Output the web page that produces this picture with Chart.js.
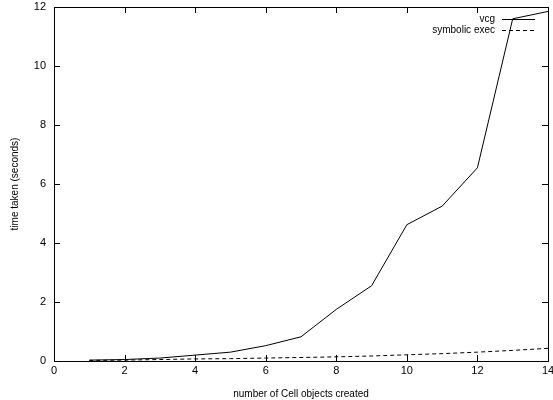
<!DOCTYPE html>
<html>
<head>
<meta charset="utf-8">
<script src="https://cdn.jsdelivr.net/npm/chart.js@4/dist/chart.umd.min.js"></script>
<style>
  html, body { margin: 0; padding: 0; background: #fff; }
  #wrap { width: 553px; height: 400px; }
</style>
</head>
<body>
<div id="wrap"><canvas id="c"></canvas></div>
<script>
// values
const cellCounts = [1, 2, 3, 4, 5, 6, 7, 8, 9, 10, 11, 12, 13, 14];
const vcgTimes = [0.03, 0.05, 0.1, 0.2, 0.3, 0.52, 0.82, 1.75, 2.55, 4.62, 5.25, 6.55, 11.6, 11.85];
const symbolicTimes = [0.02, 0.03, 0.05, 0.07, 0.08, 0.1, 0.12, 0.14, 0.17, 0.21, 0.25, 0.3, 0.36, 0.43];
const xTicks = [0, 2, 4, 6, 8, 10, 12, 14];
const yTicks = [0, 2, 4, 6, 8, 10, 12];

const FONT = "'Liberation Sans', Arial, sans-serif";

// gnuplot style: ticks pointing inwards on all four sides, plus key in top right
const gnuplotFrame = {
    id: 'gnuplotFrame',
    afterDraw(chart) {
        const { ctx, chartArea: a, scales } = chart;
        ctx.save();
        ctx.strokeStyle = '#000';
        ctx.lineWidth = 1;
        ctx.beginPath();
        xTicks.forEach(v => {
            const px = Math.round(scales.x.getPixelForValue(v)) + 0.5;
            ctx.moveTo(px, a.bottom); ctx.lineTo(px, a.bottom - 6);
            ctx.moveTo(px, a.top); ctx.lineTo(px, a.top + 6);
        });
        yTicks.forEach(v => {
            const py = Math.round(scales.y.getPixelForValue(v)) + 0.5;
            ctx.moveTo(a.left, py); ctx.lineTo(a.left + 6, py);
            ctx.moveTo(a.right, py); ctx.lineTo(a.right - 6, py);
        });
        ctx.stroke();
        ctx.strokeRect(Math.round(a.left) + 0.5, Math.round(a.top) + 0.5,
            Math.round(a.right - a.left), Math.round(a.bottom - a.top));

        // key
        ctx.font = '10px ' + FONT;
        ctx.fillStyle = '#000';
        ctx.textAlign = 'right';
        ctx.textBaseline = 'middle';
        const keyRight = a.right - 13;
        const sampleLen = 33;
        chart.data.datasets.forEach((ds, i) => {
            const y = a.top + 12 + i * 11;
            ctx.fillText(ds.label, keyRight - sampleLen - 7, y);
            ctx.beginPath();
            ctx.setLineDash(ds.borderDash || []);
            ctx.moveTo(keyRight - sampleLen, y + 0.5);
            ctx.lineTo(keyRight, y + 0.5);
            ctx.stroke();
        });
        ctx.restore();
    }
};

new Chart(document.getElementById('c'), {
    type: 'line',
    data: {
        labels: cellCounts,
        datasets: [
            {
                label: 'vcg',
                data: cellCounts.map((x, i) => ({ x, y: vcgTimes[i] })),
                borderColor: '#000',
                borderWidth: 1,
                pointRadius: 0,
                tension: 0,
                fill: false,
            },
            {
                label: 'symbolic exec',
                data: cellCounts.map((x, i) => ({ x, y: symbolicTimes[i] })),
                borderColor: '#000',
                borderWidth: 1,
                borderDash: [4, 3],
                pointRadius: 0,
                tension: 0,
                fill: false,
            }
        ]
    },
    options: {
        animation: false,
        responsive: true,
        maintainAspectRatio: false,
        layout: { padding: { top: 7, right: 5, left: 0, bottom: 0 } },
        plugins: {
            legend: { display: false },
            tooltip: { enabled: false },
        },
        scales: {
            x: {
                type: 'linear',
                min: 0,
                max: 14,
                grid: { display: false, drawTicks: false },
                border: { display: false },
                afterBuildTicks: s => { s.ticks = xTicks.map(v => ({ value: v })); },
                afterFit: s => { s.height = 39; s.paddingLeft = 0; s.paddingRight = 0; },
                ticks: {
                    color: '#000',
                    padding: 3,
                    maxRotation: 0,
                    font: { family: FONT, size: 11 },
                },
                title: {
                    display: true,
                    text: 'number of Cell objects created',
                    color: '#000',
                    padding: { top: 1, bottom: 0 },
                    font: { family: FONT, size: 10 },
                },
            },
            y: {
                min: 0,
                max: 12,
                grid: { display: false, drawTicks: false },
                border: { display: false },
                afterBuildTicks: s => { s.ticks = yTicks.map(v => ({ value: v })); },
                afterFit: s => { s.width = 54; s.paddingTop = 0; s.paddingBottom = 0; },
                ticks: {
                    color: '#000',
                    padding: 8,
                    font: { family: FONT, size: 11 },
                },
                title: {
                    display: true,
                    text: 'time taken (seconds)',
                    color: '#000',
                    padding: { top: 9, bottom: 0 },
                    font: { family: FONT, size: 10 },
                },
            },
        },
    },
    plugins: [gnuplotFrame],
});
</script>
</body>
</html>
